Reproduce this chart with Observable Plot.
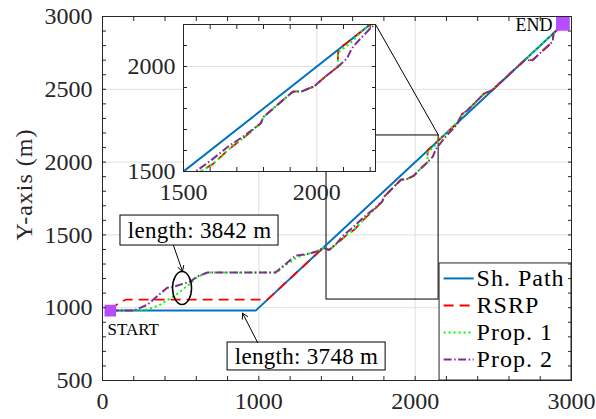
<!DOCTYPE html>
<html><head><meta charset="utf-8">
<script src="https://cdn.jsdelivr.net/npm/d3@7"></script>
<script src="https://cdn.jsdelivr.net/npm/@observablehq/plot@0.6"></script>
<style>
html,body{margin:0;padding:0;background:#fff;}
#wrap{position:relative;width:596px;height:419px;overflow:hidden;}
#wrap svg{position:absolute;left:0;top:0;}
#wrap svg, #wrap svg text, #wrap svg g{font-family:"Liberation Serif","Times New Roman",serif !important;}
#wrap svg .wide text{letter-spacing:1px;}
#wrap svg .semi text{letter-spacing:0.3px;}
</style></head><body><div id="wrap"></div>
<script>
// ---------- data ----------
const seriesNames = ["Sh. Path", "RSRP", "Prop. 1", "Prop. 2"];

const shX = [50, 980, 2945];
const shY = [980, 980, 2945];

const rsrpX = [50, 100, 150, 1056, 1410, 1450, 1500, 1563, 1610, 1665, 1730, 1790, 1800, 1850, 1910, 1945, 1975, 1990, 2030, 2078, 2080, 2270, 2300, 2333, 2440, 2490, 2700, 2750, 2880, 2885, 2945];
const rsrpY = [980, 1030, 1056, 1056, 1410, 1397, 1440, 1500, 1535, 1600, 1665, 1730, 1760, 1815, 1880, 1882, 1898, 1905, 1950, 1998, 2080, 2270, 2330, 2354, 2470, 2492, 2700, 2700, 2828, 2885, 2945];

const p1X = [50, 262, 361, 478, 563, 606, 672, 1118, 1150, 1246, 1320, 1375, 1410, 1450, 1500, 1563, 1610, 1665, 1730, 1790, 1800, 1850, 1910, 1945, 1975, 1990, 2030, 2078, 2080, 2125, 2136, 2170, 2195, 2260, 2300, 2365, 2440, 2490, 2945];
const p1Y = [980, 980, 1015, 1095, 1168, 1210, 1242, 1242, 1278, 1347, 1372, 1390, 1410, 1397, 1440, 1500, 1535, 1600, 1665, 1730, 1760, 1815, 1880, 1882, 1898, 1905, 1950, 1998, 2067, 2110, 2124, 2171, 2195, 2262, 2325, 2389, 2465, 2492, 2945];

const p2X = [50, 198, 286, 414, 450, 563, 606, 672, 1107, 1235, 1320, 1375, 1410, 1450, 1500, 1545, 1600, 1669, 1730, 1790, 1800, 1850, 1910, 1945, 1975, 1990, 2030, 2078, 2113, 2131, 2150, 2200, 2240, 2270, 2300, 2333, 2440, 2490, 2700, 2750, 2880, 2885, 2945];
const p2Y = [980, 980, 1020, 1137, 1142, 1180, 1214, 1242, 1242, 1358, 1370, 1388, 1410, 1397, 1445, 1500, 1550, 1620, 1672, 1730, 1760, 1815, 1880, 1882, 1898, 1905, 1950, 1998, 2038, 2086, 2114, 2181, 2225, 2262, 2330, 2354, 2470, 2492, 2700, 2700, 2828, 2885, 2945];

const startPt = {x: 50, y: 980, label: "START"};
const endPt = {x: 2945, y: 2950, label: "END"};
const annText1 = "length: 3842 m";
const annText2 = "length: 3748 m";
const yLabel = "Y-axis (m)";

const xMajor = [0, 1000, 2000, 3000];
const yMajor = [500, 1000, 1500, 2000, 2500, 3000];
const xMinor = [0, 200, 400, 600, 800, 1000, 1200, 1400, 1600, 1800, 2000, 2200, 2400, 2600, 2800, 3000];
const yMinor = d3.range(500, 3001, 100);
const insetMinor = [1500, 1600, 1700, 1800, 1900, 2000, 2100, 2200];
const insetLabels = [1500, 2000];

// ---------- styles ----------
const FONT = "Liberation Serif";
const AX = "#262626";
const GRID = "#dfdfdf";
const MARK = "#b64dff";
const styles = [
  {stroke: "#0072BD", dash: null, w: 2},
  {stroke: "#FF0000", dash: "10,6", w: 1.8},
  {stroke: "#00FF00", dash: "2,3", w: 2},
  {stroke: "#7E2F8E", dash: "8,2.5,1.5,2.5", w: 2}
];
const seriesData = [[shX, shY], [rsrpX, rsrpY], [p1X, p1Y], [p2X, p2Y]]
  .map(([xs, ys]) => xs.map((x, i) => ({x, y: ys[i]})));

function lineMarks(clip) {
  return seriesData.map((d, i) => Plot.line(d, {
    x: "x", y: "y", stroke: styles[i].stroke, strokeWidth: styles[i].w,
    strokeDasharray: styles[i].dash, strokeLinecap: "butt", clip
  }));
}
function tickAxes(xt, yt) {
  const o = {tickSize: -4, tickFormat: () => "", label: null, stroke: AX};
  return [
    Plot.axisX({anchor: "bottom", ticks: xt, ...o}),
    Plot.axisX({anchor: "top", ticks: xt, ...o}),
    Plot.axisY({anchor: "left", ticks: yt, ...o}),
    Plot.axisY({anchor: "right", ticks: yt, ...o})
  ];
}

// legend geometry (data units of main plot)
const legendRowsY = [1201, 1015, 830, 644];
const legendRows = seriesNames.map((name, i) => ({name, y: legendRowsY[i]}));

const main = Plot.plot({
  width: 596, height: 419,
  marginLeft: 102, marginRight: 25, marginTop: 16, marginBottom: 39,
  x: {domain: [0, 3000]}, y: {domain: [500, 3000]},
  style: {fontFamily: FONT, fontSize: "24px", color: AX, background: "white"},
  marks: [
    Plot.gridX({ticks: [1000, 2000], stroke: GRID, strokeOpacity: 1}),
    Plot.gridY({ticks: [1000, 1500, 2000, 2500], stroke: GRID, strokeOpacity: 1}),
    Plot.rect([{x1: 1433, x2: 2150, y1: 1056, y2: 2183}], {x1: "x1", x2: "x2", y1: "y1", y2: "y2", fill: "none", stroke: "#000", strokeWidth: 1}),
    Plot.link([{x1: 1747, y1: 2945, x2: 2150, y2: 2183}], {x1: "x1", y1: "y1", x2: "x2", y2: "y2", stroke: "#000", strokeWidth: 1}),
    ...lineMarks(false),
    Plot.dot([startPt], {x: "x", y: "y", symbol: "square", r: 5.7, fill: MARK, stroke: MARK}),
    Plot.dot([endPt], {x: "x", y: "y", symbol: "square", r: 6.9, fill: MARK, stroke: MARK}),
    Plot.text([startPt], {x: 32, y: 850, text: "label", textAnchor: "start", fontSize: 17, fontFamily: FONT, fill: "#000"}),
    Plot.text([endPt], {x: 2879, y: 2938, text: "label", textAnchor: "end", fontSize: 18, fontFamily: FONT, fill: "#000"}),
    // annotations
    Plot.rect([{x1: 115, x2: 1126, y1: 1427, y2: 1633}], {x1: "x1", x2: "x2", y1: "y1", y2: "y2", fill: "white", stroke: "#000", strokeWidth: 1}),
    Plot.text([annText1], {x: 621, y: 1530, text: d => d, fontSize: 23, fontFamily: FONT, fill: "#000", className: "semi"}),
    Plot.rect([{x1: 800, x2: 1811, y1: 569, y2: 761}], {x1: "x1", x2: "x2", y1: "y1", y2: "y2", fill: "white", stroke: "#000", strokeWidth: 1}),
    Plot.text([annText2], {x: 1305, y: 665, text: d => d, fontSize: 23, fontFamily: FONT, fill: "#000", className: "semi"}),
    Plot.arrow([{x1: 454, y1: 1427, x2: 512, y2: 1249}], {x1: "x1", y1: "y1", x2: "x2", y2: "y2", stroke: "#000", strokeWidth: 1, headLength: 9}),
    Plot.arrow([{x1: 992, y1: 761, x2: 896, y2: 962}], {x1: "x1", y1: "y1", x2: "x2", y2: "y2", stroke: "#000", strokeWidth: 1, headLength: 9}),
    // legend
    Plot.rect([{x1: 2156, x2: 3000, y1: 500, y2: 1304}], {x1: "x1", x2: "x2", y1: "y1", y2: "y2", fill: "white", stroke: AX, strokeWidth: 1}),
    ...legendRows.map((r, i) => Plot.link([r], {x1: 2182, x2: 2374, y1: "y", y2: "y", stroke: styles[i].stroke, strokeWidth: 2, strokeDasharray: styles[i].dash, strokeLinecap: "butt"})),
    Plot.text(legendRows, {x: 2393, y: "y", text: "name", textAnchor: "start", fontSize: 24, fontFamily: FONT, fill: "#000", className: "wide"}),
    Plot.frame({stroke: AX, strokeWidth: 1}),
    ...tickAxes(xMinor, yMinor),
    Plot.axisX({anchor: "bottom", ticks: xMajor, tickSize: 0, tickPadding: 11, tickFormat: d => String(d), fontSize: 24, fontFamily: FONT, label: null, fill: AX}),
    Plot.axisY({anchor: "left", ticks: yMajor, tickSize: 0, tickPadding: 10, tickFormat: d => String(d), fontSize: 24, fontFamily: FONT, label: null, fill: AX}),
    Plot.text([yLabel], {frameAnchor: "left", text: d => d, textAnchor: "middle", rotate: -90, dx: -78, dy: -14, fontSize: 24, fontFamily: FONT, fill: AX, className: "wide"})
  ]
});

// ellipse annotation, placed through the plot's own scales
const sx = main.scale("x"), sy = main.scale("y");
const ellipseC = {x: 512, y: 1132};
d3.select(main).append("ellipse")
  .attr("cx", sx.apply(ellipseC.x)).attr("cy", sy.apply(ellipseC.y))
  .attr("rx", 9.5).attr("ry", 16.5)
  .attr("fill", "none").attr("stroke", "#000").attr("stroke-width", 1.5);

const inset = Plot.plot({
  width: 596, height: 419,
  marginLeft: 183, marginRight: 221, marginTop: 24, marginBottom: 248,
  x: {domain: [1500, 2220]}, y: {domain: [1500, 2200]},
  style: {fontFamily: FONT, fontSize: "24px", color: AX, background: "transparent"},
  marks: [
    Plot.frame({fill: "white"}),
    Plot.gridX({ticks: [2000], stroke: GRID, strokeOpacity: 1}),
    Plot.gridY({ticks: [2000], stroke: GRID, strokeOpacity: 1}),
    ...lineMarks(true),
    Plot.frame({stroke: AX, strokeWidth: 1}),
    ...tickAxes(insetMinor, insetMinor),
    Plot.axisX({anchor: "bottom", ticks: insetLabels, tickSize: 0, tickPadding: 11, tickFormat: d => String(d), fontSize: 24, fontFamily: FONT, label: null, fill: AX}),
    Plot.axisY({anchor: "left", ticks: insetLabels, tickSize: 0, tickPadding: 8, tickFormat: d => String(d), fontSize: 24, fontFamily: FONT, label: null, fill: AX})
  ]
});

const wrap = document.getElementById("wrap");
wrap.append(main);
wrap.append(inset);
</script>
</body></html>
